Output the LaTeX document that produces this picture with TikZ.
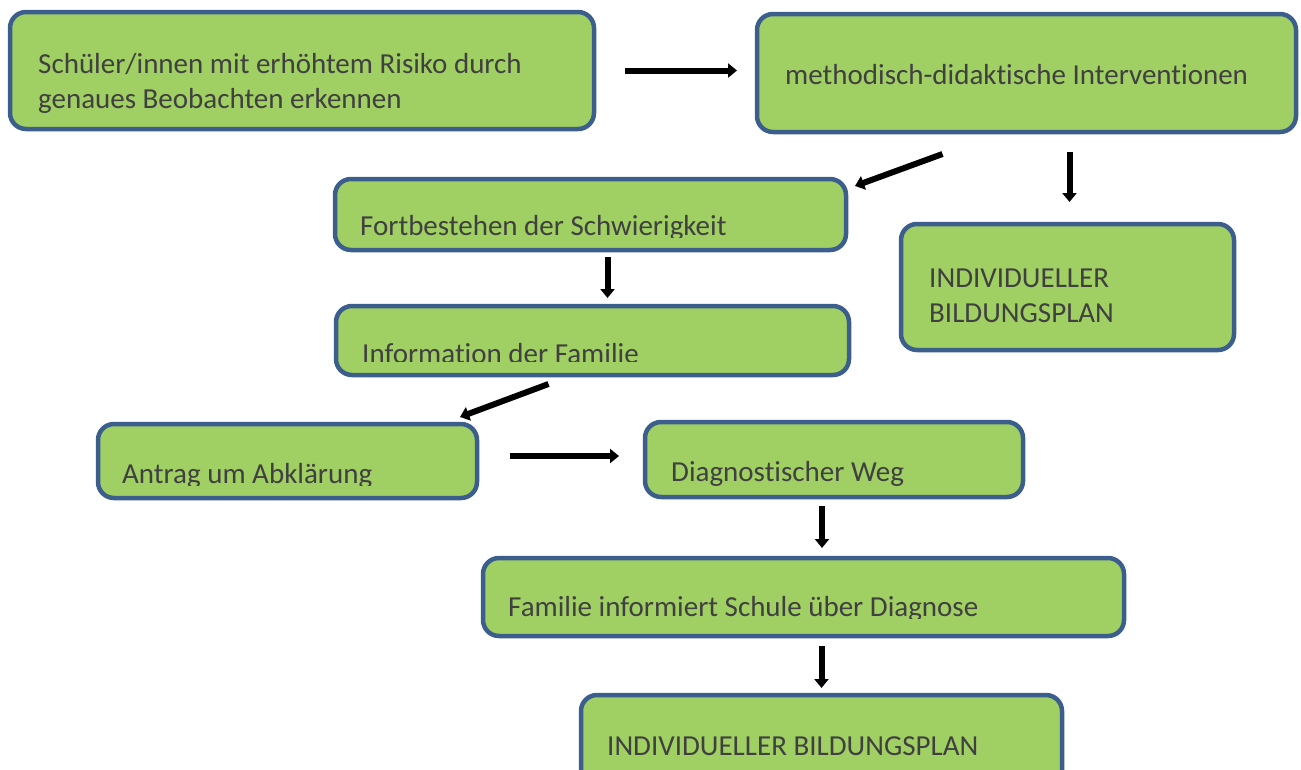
\documentclass[tikz,border=0pt]{standalone}
\usepackage{fontspec}
\setmainfont{Carlito}[Ligatures=NoCommon]
\usetikzlibrary{arrows.meta}

\definecolor{boxgreen}{RGB}{160,207,99}
\definecolor{boxblue}{RGB}{59,94,140}
\definecolor{textgray}{RGB}{64,64,64}

\begin{document}
\begin{tikzpicture} [
    x=1pt, y=-1pt,
    stepbox/.style={draw=boxblue, fill=boxgreen, line width=4.5pt, rounded corners=16pt, anchor=north west, inner sep=0pt, outer sep=0pt},
    boxtext/.style={anchor=base west, inner sep=0pt, text=textgray, font=\fontsize{29}{35}\selectfont, align=left},
    flowarrow/.style={black, line width=6pt, -{Triangle[width=14pt,length=9pt]}}
  ]

\useasboundingbox (0,0) rectangle (1301,769);
\clip (0,0) rectangle (1301,769);

%boxes
\node[stepbox, minimum width=584pt, minimum height=117pt] (risk) at (10,12) {};
\node[stepbox, minimum width=539pt, minimum height=118pt] (method) at (757,14) {};
\node[stepbox, minimum width=511pt, minimum height=71pt] (fort) at (335,179) {};
\node[stepbox, minimum width=333pt, minimum height=126pt] (plan) at (901,224) {};
\node[stepbox, minimum width=513pt, minimum height=69pt] (info) at (336,306) {};
\node[stepbox, minimum width=379pt, minimum height=74pt] (antrag) at (98,424) {};
\node[stepbox, minimum width=378pt, minimum height=75pt] (diag) at (645,422) {};
\node[stepbox, minimum width=641pt, minimum height=78pt] (familie) at (483,558) {};
\node[stepbox, minimum width=481pt, minimum height=120pt] (planend) at (581,695) {};

% texts (base = last line)
\node[boxtext] (risk-txt) at (38,108) {Schüler/innen mit erhöhtem Risiko durch\\genaues Beobachten erkennen};
\node[boxtext] (method-txt) at (785,84) {methodisch-didaktische Interventionen};
\node[boxtext] (plan-txt) at (929,322) {INDIVIDUELLER\\BILDUNGSPLAN};
\node[boxtext] (planend-txt) at (607,755) {INDIVIDUELLER BILDUNGSPLAN};

% texts cut off at the bottom
\begin{scope}
\clip (0,0) rectangle (1301,237);
\node[boxtext] (fort-txt) at (360,235) {Fortbestehen der Schwierigkeit};
\end{scope}
\begin{scope}
\clip (0,300) rectangle (1301,361);
\node[boxtext] (info-txt) at (362,363) {Information der Familie};
\end{scope}
\begin{scope}
\clip (0,420) rectangle (1301,485);
\node[boxtext] (antrag-txt) at (122,483) {Antrag um Abklärung};
\node[boxtext] (diag-txt) at (671,481) {Diagnostischer Weg};
\end{scope}
\begin{scope}
\clip (0,550) rectangle (1301,618);
\node[boxtext] (familie-txt) at (508,616) {Familie informiert Schule über Diagnose};
\end{scope}

% arrows
\draw[flowarrow, shorten <=31pt, shorten >=20pt] (risk.east) -- (risk.east -| method.west);
\draw[flowarrow] ([xshift=-84pt,yshift=-22pt]method.south) -- ([xshift=9pt,yshift=-7pt]fort.north east);
\draw[flowarrow, shorten <=20pt, shorten >=22pt] ([xshift=2pt]method.south -| plan.north) -- ([xshift=2pt]plan.north);
\draw[flowarrow, shorten <=7pt, shorten >=8pt] ([xshift=17pt]fort.south) -- ([xshift=17pt]fort.south |- info.north);
\draw[flowarrow] ([xshift=-44pt,yshift=-9pt]info.south) -- ([xshift=-17pt,yshift=7pt]antrag.north east);
\draw[flowarrow, shorten <=33pt, shorten >=26pt] ([yshift=5pt]antrag.east) -- ([yshift=5pt]antrag.east -| diag.west);
\draw[flowarrow, shorten <=9pt, shorten >=10pt] ([xshift=-12pt]diag.south) -- ([xshift=-12pt]diag.south |- familie.north);
\draw[flowarrow, shorten <=10pt, shorten >=7pt] (familie.south -| planend.north) -- (planend.north);

\end{tikzpicture}
\end{document}
